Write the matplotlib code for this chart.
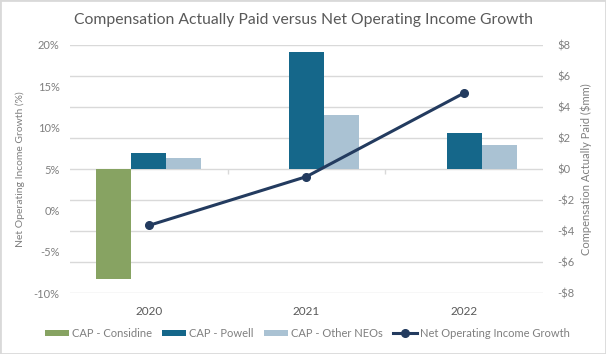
import matplotlib.pyplot as plt
import numpy as np
from matplotlib.patches import Rectangle

plt.rcParams['font.family'] = ['Lato', 'DejaVu Sans']

# data
years = ['2020', '2021', '2022']
cap_considine = [-7.05, np.nan, np.nan]   # $mm
cap_powell = [1.05, 7.55, 2.3]           # $mm
cap_other = [0.7, 3.5, 1.55]             # $mm
noi_growth = [-1.8, 4.1, 14.2]           # %

pct_ticks = [-10, -5, 0, 5, 10, 15, 20]
usd_ticks = [-8, -6, -4, -2, 0, 2, 4, 6, 8]

c_considine = '#87A362'
c_powell = '#15678A'
c_other = '#AAC2D3'
c_line = '#233B5F'
txt = '#595959'
lbl = '#7F7F7F'
grid = '#D9D9D9'

fig = plt.figure(figsize=(6.06, 3.54), dpi=100)
fig.patches.append(Rectangle((0, 0), 1, 1, transform=fig.transFigure,
                             fill=False, edgecolor='#D9D9D9', linewidth=2))

ax = fig.add_axes([0.1155, 0.1714, 0.7805, 0.7015])
ax2 = ax.twinx()
x = np.arange(len(years))
w = 0.222

# bars on the $mm axis (shown on the right)
ax.bar(x - w, cap_considine, w, color=c_considine, label='CAP - Considine', zorder=2)
ax.bar(x, cap_powell, w, color=c_powell, label='CAP - Powell', zorder=2)
ax.bar(x + w, cap_other, w, color=c_other, label='CAP - Other NEOs', zorder=2)
ax.set_ylim(-8, 8)
ax.set_xlim(-0.5, 2.5)
ax.set_yticks(usd_ticks)
ax.set_yticklabels([('-$%d' % -v) if v < 0 else '$%d' % v for v in usd_ticks])
ax.grid(axis='y', color=grid, linewidth=1)
ax.set_axisbelow(True)
ax.set_xticks(x)
ax.set_xticklabels(years)
ax.tick_params(axis='x', length=0, pad=9, labelsize=8.5, labelcolor=txt)
# small category separators on the zero line
ax.vlines([0.5, 1.5], -0.28, 0, color=grid, linewidth=1, zorder=1)
for s in ax.spines.values():
    s.set_visible(False)

# line on the % axis (shown on the left)
ax2.plot(x, noi_growth, color=c_line, linewidth=2.2, marker='o', markersize=5.5,
         label='Net Operating Income Growth', zorder=3)
ax2.set_ylim(-10, 20)
ax2.set_yticks(pct_ticks)
ax2.set_yticklabels(['%d%%' % v for v in pct_ticks])
for s in ax2.spines.values():
    s.set_visible(False)

# put $ ticks on the right, % ticks on the left
ax.yaxis.tick_right()
ax.yaxis.set_label_position('right')
ax2.yaxis.tick_left()
ax2.yaxis.set_label_position('left')
ax.tick_params(axis='y', which='both', left=False, right=False, labelleft=False,
               labelright=True, pad=7, labelsize=8, labelcolor=lbl)
ax2.tick_params(axis='y', which='both', left=False, right=False, labelleft=True,
                labelright=False, pad=4, labelsize=8, labelcolor=lbl)
ax.set_ylabel('Compensation Actually Paid ($mm)', color=lbl, fontsize=8, labelpad=4)
ax2.set_ylabel('Net Operating Income Growth (%)', color=lbl, fontsize=7.5, labelpad=6)

fig.suptitle('Compensation Actually Paid versus Net Operating Income Growth',
             x=0.5, y=0.962, fontsize=11.3, color=txt)

h1, l1 = ax.get_legend_handles_labels()
h2, l2 = ax2.get_legend_handles_labels()
fig.legend(h1 + h2, l1 + l2, loc='center', bbox_to_anchor=(0.507, 0.058), ncol=4,
           frameon=False, fontsize=8, labelcolor=lbl, handlelength=2.2,
           handleheight=0.55, handletextpad=0.25, columnspacing=0.9)

fig.savefig('out.png', dpi=100)
